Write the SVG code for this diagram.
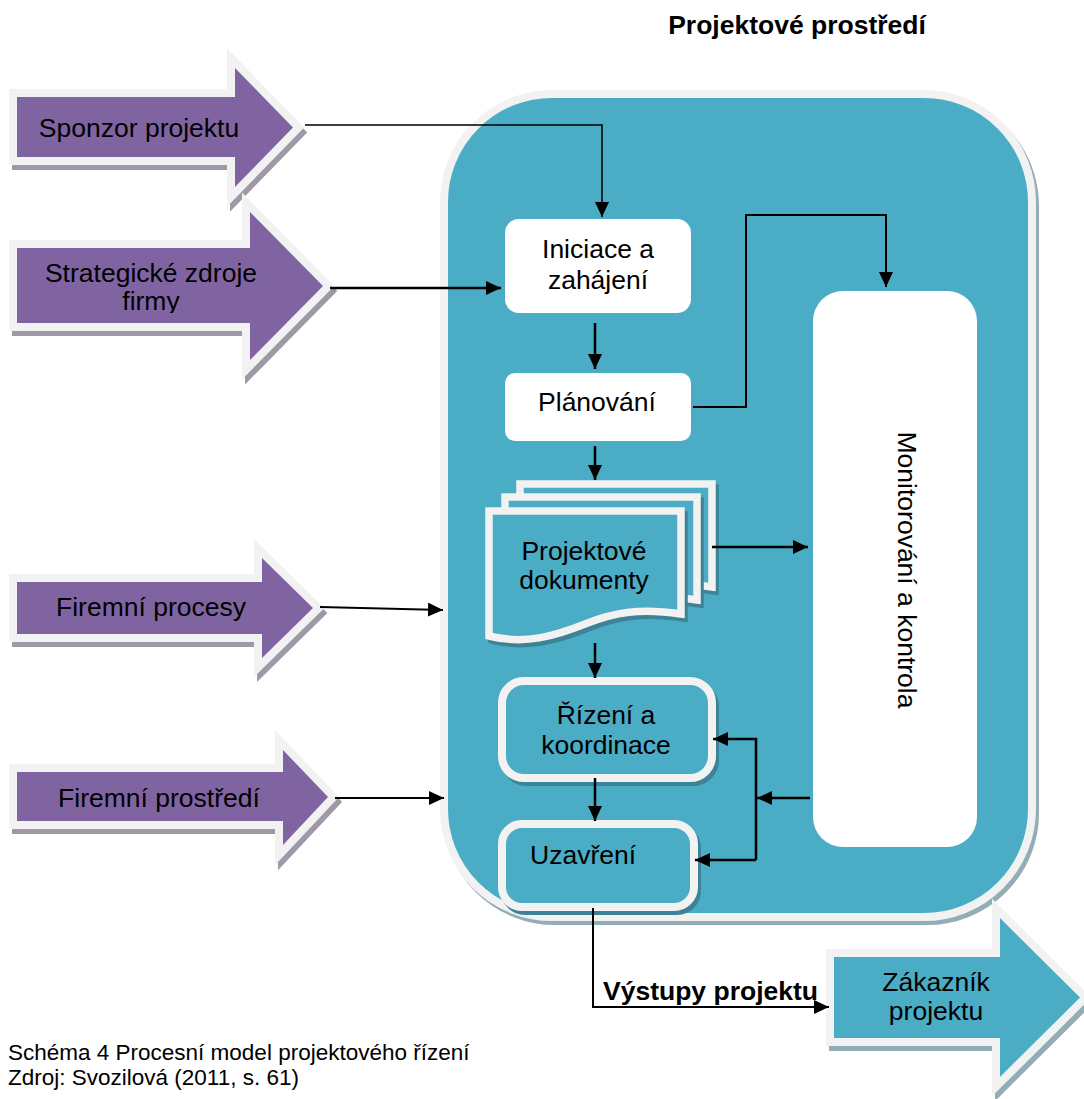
<svg xmlns="http://www.w3.org/2000/svg" width="1084" height="1099" viewBox="0 0 1084 1099">
<style>
text{font-family:"Liberation Sans",Arial,sans-serif;fill:#000}
.lbl{font-size:26.5px}
.mid{text-anchor:middle}
.bold{font-weight:bold}
.cap{font-size:22.5px}
.pbord{fill:#F2F2F2;stroke:#F2F2F2;stroke-width:16;stroke-linejoin:miter;stroke-miterlimit:10}
.pshadow{fill:#9E99A7;stroke:#9E99A7;stroke-width:16;stroke-linejoin:miter;stroke-miterlimit:10}
.tshadow{fill:#93ADB6;stroke:#93ADB6;stroke-width:16;stroke-linejoin:miter;stroke-miterlimit:10}
.purple{fill:#8064A2}
.teal{fill:#4BACC6}
.inbox{fill:#4BACC6;stroke:#F2F2F2;stroke-width:8}
.inshadow{fill:#3C8397;stroke:#3C8397;stroke-width:8}
.page{fill:#4BACC6;stroke:#F2F2F2;stroke-width:7.5;stroke-linejoin:miter}
.pageshadow{fill:#3C8397;stroke:#3C8397;stroke-width:7.5}
.white{fill:#FFFFFF}
.con{fill:none;stroke:#000;stroke-width:2.5}
</style>
<defs>
<marker id="ah" viewBox="0 0 15 14" refX="15" refY="7" markerWidth="15" markerHeight="14" markerUnits="userSpaceOnUse" orient="auto">
<path d="M0,0 L15,7 L0,14 Z" fill="#000"/>
</marker>
<path id="a1" d="M17,97 H235 V68 L293,127.5 L235,187 V157 H17 Z"/>
<path id="a2" d="M17,248 H250 V212 L323,286 L250,360 V323 H17 Z"/>
<path id="a3" d="M17,582 H262 V558 L313,608 L262,658 V634 H17 Z"/>
<path id="a4" d="M17,772 H283 V750 L328,797 L283,845 V821 H17 Z"/>
<path id="a5" d="M834,957 H1000 V918 L1080,997.5 L1000,1077 V1038 H834 Z"/>
<path id="doc" d="M489,511 H681 V614 C640,608 615,612 585,624 C555,636 525,645 489,636 Z"/>
<clipPath id="clipStrat"><rect x="0" y="200" width="340" height="113"/></clipPath>
</defs>

<text class="lbl bold mid" x="797" y="34">Projektové prostředí</text>

<g id="projekt-prostredi">
<rect x="447" y="98" width="588" height="823" rx="108" fill="#93ADB6" stroke="#93ADB6" stroke-width="8"/>
<rect x="444" y="94" width="588" height="823" rx="108" fill="#4BACC6" stroke="#F2F2F2" stroke-width="8"/>
</g>

<g id="sponzor">
<use href="#a1" class="pshadow" transform="translate(3,5)"/>
<use href="#a1" class="pbord"/>
<use href="#a1" class="purple"/>
<text class="lbl mid" x="139" y="137">Sponzor projektu</text>
</g>
<g id="strategicke">
<use href="#a2" class="pshadow" transform="translate(3,5)"/>
<use href="#a2" class="pbord"/>
<use href="#a2" class="purple"/>
<g clip-path="url(#clipStrat)">
<text class="lbl mid" x="151" y="282">Strategické zdroje</text>
<text class="lbl mid" x="151" y="310">firmy</text>
</g>
</g>
<g id="procesy">
<use href="#a3" class="pshadow" transform="translate(3,5)"/>
<use href="#a3" class="pbord"/>
<use href="#a3" class="purple"/>
<text class="lbl mid" x="151" y="616">Firemní procesy</text>
</g>
<g id="prostredi">
<use href="#a4" class="pshadow" transform="translate(3,5)"/>
<use href="#a4" class="pbord"/>
<use href="#a4" class="purple"/>
<text class="lbl mid" x="159" y="807">Firemní prostředí</text>
</g>

<g id="iniciace">
<rect x="505" y="219" width="186" height="94" rx="14" class="white"/>
<text class="lbl mid" x="598" y="258">Iniciace a</text>
<text class="lbl mid" x="598" y="289">zahájení</text>
</g>
<g id="planovani">
<rect x="505" y="373" width="186" height="68" rx="10" class="white"/>
<text class="lbl mid" x="597" y="411">Plánování</text>
</g>
<g id="dokumenty">
<use href="#doc" class="pageshadow" transform="translate(34,-23)"/>
<use href="#doc" class="page" transform="translate(31,-27)"/>
<use href="#doc" class="pageshadow" transform="translate(19,-10)"/>
<use href="#doc" class="page" transform="translate(16,-14)"/>
<use href="#doc" class="pageshadow" transform="translate(3,4)"/>
<use href="#doc" class="page"/>
<text class="lbl mid" x="584" y="560">Projektové</text>
<text class="lbl mid" x="584" y="589">dokumenty</text>
</g>
<g id="monitorovani">
<rect x="813" y="291" width="164" height="556" rx="30" class="white"/>
<text class="lbl mid" transform="translate(898,570) rotate(90)" x="0" y="0">Monitorování a kontrola</text>
</g>
<g id="rizeni">
<rect x="505" y="685" width="210" height="97" rx="22" class="inshadow"/>
<rect x="502" y="681" width="210" height="97" rx="22" class="inbox"/>
<text class="lbl mid" x="606" y="724">Řízení a</text>
<text class="lbl mid" x="606" y="754">koordinace</text>
</g>
<g id="uzavreni">
<rect x="505" y="828" width="192" height="83" rx="20" class="inshadow"/>
<rect x="502" y="824" width="192" height="83" rx="20" class="inbox"/>
<text class="lbl" x="530" y="864">Uzavření</text>
</g>
<g id="zakaznik">
<use href="#a5" class="tshadow" transform="translate(3,5)"/>
<use href="#a5" class="pbord"/>
<use href="#a5" class="teal"/>
<text class="lbl mid" x="936" y="991">Zákazník</text>
<text class="lbl mid" x="936" y="1020">projektu</text>
</g>

<g id="connectors">
<path class="con" style="stroke-width:1.5" d="M305,125 H602 V217" marker-end="url(#ah)"/>
<path class="con" d="M330,288 H501" marker-end="url(#ah)"/>
<path class="con" style="stroke-width:2" d="M320,607 L443,610" marker-end="url(#ah)"/>
<path class="con" style="stroke-width:2" d="M335,798 H444" marker-end="url(#ah)"/>
<path class="con" d="M595,323 V369" marker-end="url(#ah)"/>
<path class="con" d="M595,446 V480" marker-end="url(#ah)"/>
<path class="con" style="stroke-width:2" d="M693,407 H746 V215 H886 V287" marker-end="url(#ah)"/>
<path class="con" d="M712,547 H808" marker-end="url(#ah)"/>
<path class="con" d="M595,643 V678" marker-end="url(#ah)"/>
<path class="con" d="M595,778 V821" marker-end="url(#ah)"/>
<path class="con" d="M810,798 H757" marker-end="url(#ah)"/>
<path class="con" d="M756,860 V739 H713" marker-end="url(#ah)"/>
<path class="con" d="M756,860 H695" marker-end="url(#ah)"/>
<path class="con" style="stroke-width:2" d="M593,908 V1007 H829" marker-end="url(#ah)"/>
<text class="lbl bold" x="603" y="1000">Výstupy projektu</text>
</g>

<text class="cap" x="8" y="1060">Schéma 4 Procesní model projektového řízení</text>
<text class="cap" x="8" y="1085">Zdroj: Svozilová (2011, s. 61)</text>
</svg>
